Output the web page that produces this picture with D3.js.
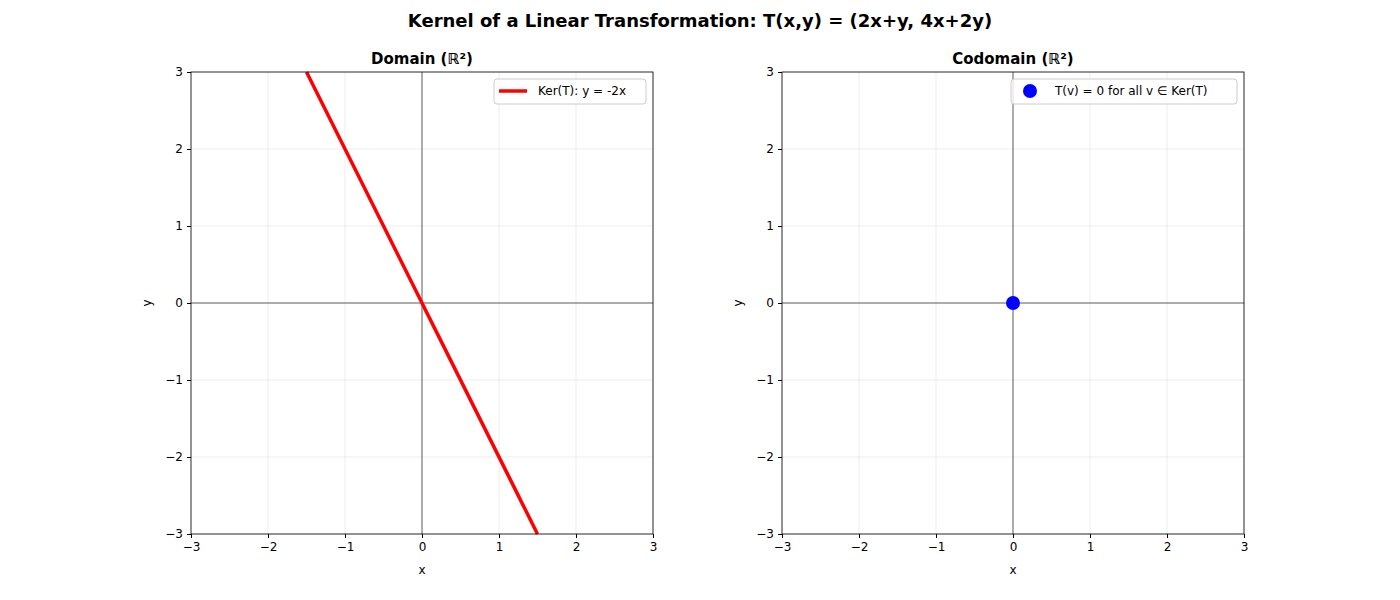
<!DOCTYPE html>
<html><head><meta charset="utf-8">
<script src="https://cdn.jsdelivr.net/npm/d3@7"></script>
<style>body{margin:0;background:#fff;font-family:"DejaVu Sans",sans-serif}</style>
</head><body>
<script>
const ticks = [-3, -2, -1, 0, 1, 2, 3];
const kernelX = [-1.5, 1.5];
const kernelY = [3, -3];
const imagePoint = [0, 0];
const titles = ["Domain (ℝ²)", "Codomain (ℝ²)"];

const svg = d3.select("body").append("svg").attr("width", 1400).attr("height", 600);
svg.append("text").attr("x", 700).attr("y", 27).attr("text-anchor", "middle")
  .style("font-size", "18px").style("font-weight", "bold")
  .text("Kernel of a Linear Transformation: T(x,y) = (2x+y, 4x+2y)");

const lefts = [191, 782];
const plotTop = 72, size = 462;

lefts.forEach((left, i) => {
  const x = d3.scaleLinear().domain([-3, 3]).range([left, left + size]);
  const y = d3.scaleLinear().domain([-3, 3]).range([plotTop + size, plotTop]);
  const g = svg.append("g");
  // grid
  g.selectAll(".gx").data(ticks).join("line")
    .attr("x1", d => x(d)).attr("x2", d => x(d)).attr("y1", plotTop).attr("y2", plotTop + size)
    .attr("stroke", "#b0b0b0").attr("stroke-opacity", 0.3).attr("stroke-width", 0.8);
  g.selectAll(".gy").data(ticks).join("line")
    .attr("y1", d => y(d)).attr("y2", d => y(d)).attr("x1", left).attr("x2", left + size)
    .attr("stroke", "#b0b0b0").attr("stroke-opacity", 0.3).attr("stroke-width", 0.8);
  // zero lines
  g.append("line").attr("x1", x(0)).attr("x2", x(0)).attr("y1", plotTop).attr("y2", plotTop + size)
    .attr("stroke", "#000").attr("stroke-width", 0.6);
  g.append("line").attr("y1", y(0)).attr("y2", y(0)).attr("x1", left).attr("x2", left + size)
    .attr("stroke", "#000").attr("stroke-width", 0.6);

  if (i === 0) {
    g.append("line").attr("x1", x(kernelX[0])).attr("y1", y(kernelY[0]))
      .attr("x2", x(kernelX[1])).attr("y2", y(kernelY[1]))
      .attr("stroke", "red").attr("stroke-width", 3.5);
  } else {
    g.append("circle").attr("cx", x(imagePoint[0])).attr("cy", y(imagePoint[1])).attr("r", 7)
      .attr("fill", "blue");
  }

  const xa = g.append("g").attr("transform", `translate(0,${plotTop + size})`)
    .call(d3.axisBottom(x).tickValues(ticks).tickSize(4).tickPadding(4).tickFormat(d => String(d).replace("-", "−")));
  const ya = g.append("g").attr("transform", `translate(${left},0)`)
    .call(d3.axisLeft(y).tickValues(ticks).tickSize(4).tickPadding(4).tickFormat(d => String(d).replace("-", "−")));
  [xa, ya].forEach(a => { a.selectAll("text").style("font-size", "12px").style("font-family", "DejaVu Sans"); a.select(".domain").remove(); });
  g.append("rect").attr("x", left).attr("y", plotTop).attr("width", size).attr("height", size)
    .attr("fill", "none").attr("stroke", "#000").attr("stroke-width", 0.8);

  g.append("text").attr("x", left + size / 2).attr("y", 64).attr("text-anchor", "middle")
    .style("font-size", "15px").style("font-weight", "bold").text(titles[i]);
  g.append("text").attr("x", left + size / 2).attr("y", 574).attr("text-anchor", "middle")
    .style("font-size", "12px").text("x");
  g.append("text").attr("transform", `translate(${left - 40},${plotTop + size / 2}) rotate(-90)`)
    .attr("text-anchor", "middle").style("font-size", "12px").text("y");

  // legend
  const lw = i === 0 ? 152 : 226;
  const lx = left + size - 7 - lw, ly = 79;
  g.append("rect").attr("x", lx).attr("y", ly).attr("width", lw).attr("height", 25).attr("rx", 3)
    .attr("fill", "#fff").attr("fill-opacity", 0.8).attr("stroke", "#ccc");
  if (i === 0) {
    g.append("line").attr("x1", lx + 5).attr("x2", lx + 33).attr("y1", ly + 12).attr("y2", ly + 12)
      .attr("stroke", "red").attr("stroke-width", 3.5);
  } else {
    g.append("circle").attr("cx", lx + 19).attr("cy", ly + 12).attr("r", 7).attr("fill", "blue");
  }
  g.append("text").attr("x", lx + 44).attr("y", ly + 16).style("font-size", "12px")
    .text(i === 0 ? "Ker(T): y = -2x" : "T(v) = 0 for all v ∈ Ker(T)");
});
</script>
</body></html>
